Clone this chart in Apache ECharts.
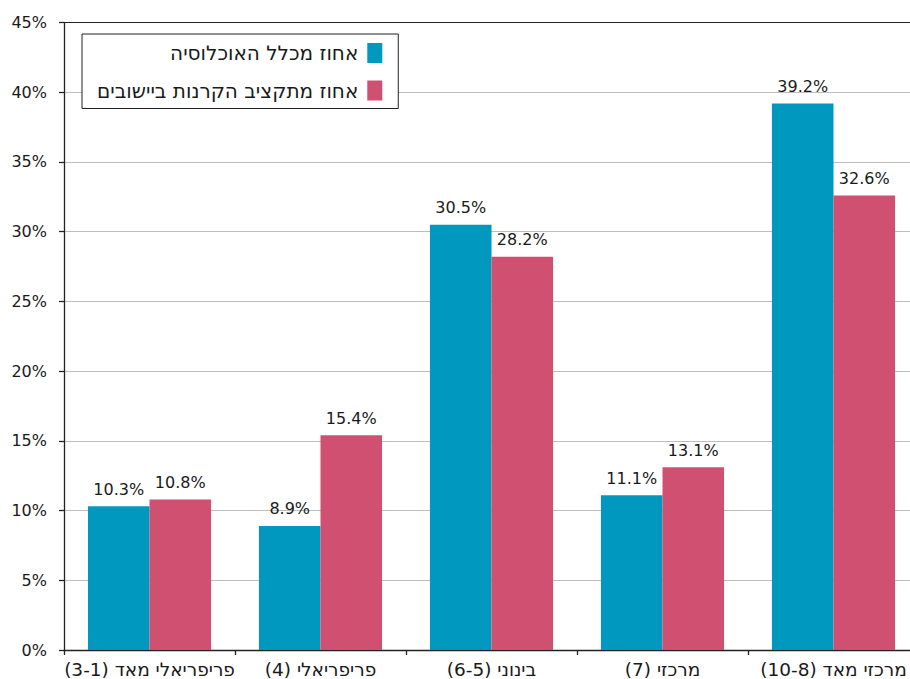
<!DOCTYPE html>
<html>
<head>
<meta charset="utf-8">
<script src="https://cdn.jsdelivr.net/npm/echarts@6/dist/echarts.min.js"></script>
<style>
html,body{margin:0;padding:0;background:#fff;}
#chart{width:910px;height:679px;}
#chart text[text-anchor="middle"]{direction:rtl;unicode-bidi:embed;}
</style>
</head>
<body>
<div id="chart"></div>
<script>
const categories = ['פריפריאלי מאד (3-1)', 'פריפריאלי (4)', 'בינוני (6-5)', 'מרכזי (7)', 'מרכזי מאד (10-8)'];
const seriesNames = ['אחוז מכלל האוכלוסיה', 'אחוז מתקציב הקרנות ביישובים'];
const populationShare = [10.3, 8.9, 30.5, 11.1, 39.2];
const budgetShare = [10.8, 15.4, 28.2, 13.1, 32.6];
const yMin = 0, yMax = 45, yStep = 5;

const FONT = 'DejaVu Sans';
const TXT = '#1a1a1a';
const chart = echarts.init(document.getElementById('chart'), null, {renderer: 'svg'});
const labelCfg = {
  show: true, position: 'top', distance: 9,
  formatter: p => p.value.toFixed(1) + '%',
  color: TXT, fontFamily: FONT, fontSize: 16
};
const nLines = (yMax - yMin) / yStep + 1;
const splitColors = [];
for (let i = 0; i < nLines; i++) splitColors.push(i === nLines - 1 ? '#222' : '#bdbdbd');
chart.setOption({
  animation: false,
  backgroundColor: '#fff',
  grid: {left: 64, top: 22.5, bottom: 29, width: 855, outerBoundsMode: 'none'},
  legend: {
    orient: 'vertical', left: 82, top: 34, align: 'right',
    backgroundColor: '#fff', borderColor: '#222', borderWidth: 1,
    padding: [9, 16, 8, 15],
    itemWidth: 15, itemHeight: 20, itemGap: 17.5,
    textStyle: {color: TXT, fontFamily: FONT, fontSize: 20, padding: [0, 4, 0, 0]},
    data: seriesNames.map(n => ({name: n, icon: 'rect'}))
  },
  xAxis: {
    type: 'category', data: categories,
    axisLine: {lineStyle: {color: '#222', width: 1.3}},
    axisTick: {show: true, length: 5, lineStyle: {color: '#222', width: 1.3}},
    axisLabel: {interval: 0, color: TXT, fontFamily: FONT, fontSize: 18.5, margin: 10}
  },
  yAxis: {
    type: 'value', min: yMin, max: yMax, interval: yStep,
    axisLine: {show: true, lineStyle: {color: '#222', width: 1.3}},
    axisTick: {show: true, length: 5, lineStyle: {color: '#222', width: 1.3}},
    axisLabel: {formatter: '{value}%', color: TXT, fontFamily: FONT, fontSize: 16, margin: 17},
    splitLine: {show: true, lineStyle: {color: splitColors, width: 1}}
  },
  series: [
    {name: seriesNames[0], type: 'bar', data: populationShare, barWidth: '36%', barGap: '0%',
     itemStyle: {color: '#0098BE'}, label: labelCfg},
    {name: seriesNames[1], type: 'bar', data: budgetShare, barWidth: '36%', barGap: '0%',
     itemStyle: {color: '#D05072'}, label: labelCfg}
  ]
});
</script>
</body>
</html>
